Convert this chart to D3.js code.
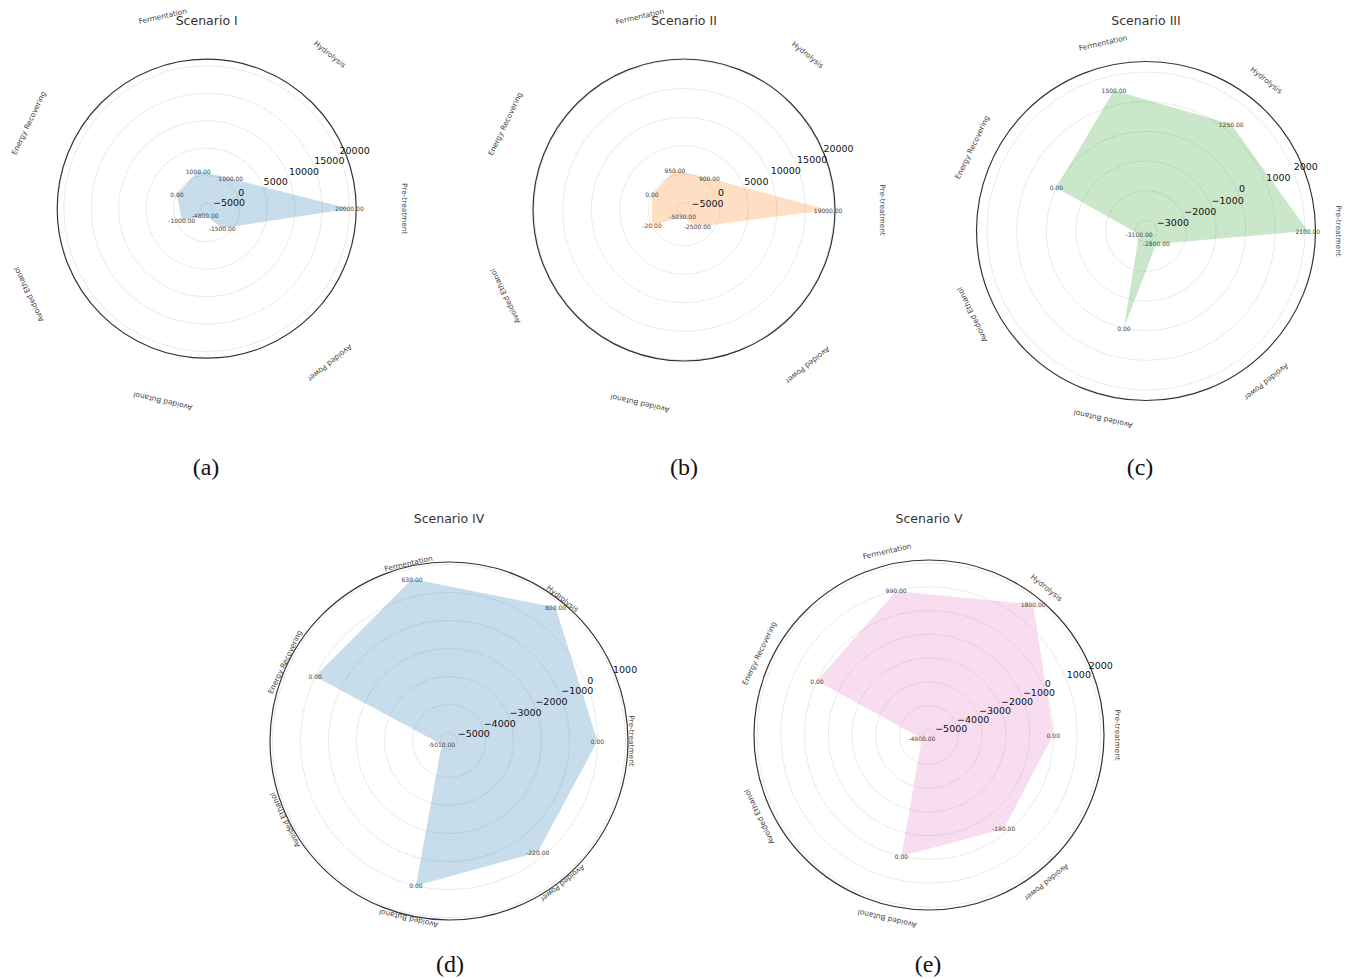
<!DOCTYPE html>
<html>
<head>
<meta charset="utf-8">
<script src="https://cdn.jsdelivr.net/npm/d3@7"></script>
<style>
  body { margin: 0; background: #fff; }
  svg { display: block; font-family: "DejaVu Sans", sans-serif; }
</style>
</head>
<body>
<svg width="1350" height="979"></svg>
<script>
// Categories, going counter-clockwise from the right
var categories = ["Pre-treatment", "Hydrolysis", "Fermentation", "Energy Recovering",
                  "Avoided Ethanol", "Avoided Butanol", "Avoided Power"];

// One series per scenario
var scenarioNames = ["Scenario I", "Scenario II", "Scenario III", "Scenario IV", "Scenario V"];
var captions = ["(a)", "(b)", "(c)", "(d)", "(e)"];
var scenario1 = [20000, 1000, 1000, 0, -1000, -4800, -1500];
var scenario2 = [19000, 900, 950, 0, -20, -5030, -2500];
var scenario3 = [2100, 1250, 1500, 0, -3100, 0, -2800];
var scenario4 = [0, 800, 630, 0, -5010, 0, -220];
var scenario5 = [0, 1800, 990, 0, -4900, 0, -190];
var allSeries = [scenario1, scenario2, scenario3, scenario4, scenario5];

// Fill colours
var colors = ["#1f77b4", "#ff7f0e", "#2ca02c", "#1f77b4", "#e377c2"];

// Panel layout: centre, radius, title and caption positions
var panels = [
  {cx: 206.7, cy: 208.7, R: 149.5, titleY: 20, capX: 206, capY: 475},
  {cx: 684,   cy: 210,   R: 151,   titleY: 20, capX: 684, capY: 475},
  {cx: 1146,  cy: 231,   R: 169.5, titleY: 20, capX: 1140, capY: 475},
  {cx: 449,   cy: 741,   R: 179,   titleY: 518, capX: 450, capY: 972},
  {cx: 929,   cy: 735,   R: 175,   titleY: 518, capX: 928, capY: 972}
];

var svg = d3.select("svg");
var n = categories.length;
var step = 2 * Math.PI / n;

allSeries.forEach(function(values, k) {
  var p = panels[k];
  var g = svg.append("g").attr("transform", "translate(" + p.cx + "," + p.cy + ")");

  // matplotlib-like autoscale: 5% margin on each side
  var lo = d3.min(values), hi = d3.max(values);
  var pad = (hi - lo) * 0.05;
  var r = d3.scaleLinear().domain([lo - pad, hi + pad]).range([0, p.R]);
  var ticks = r.ticks(6);

  // Grid circles
  g.selectAll("circle.grid")
    .data(ticks)
    .enter().append("circle")
    .attr("class", "grid")
    .attr("r", function(d) { return r(d); })
    .attr("fill", "none")
    .attr("stroke", "#c2c2c2")
    .attr("stroke-width", 0.8)
    .attr("stroke-dasharray", "1,1.2");

  // Filled polygon
  var line = d3.lineRadial()
    .angle(function(d, i) { return Math.PI / 2 - i * step; })
    .radius(function(d) { return r(d); })
    .curve(d3.curveLinearClosed);

  g.append("path")
    .attr("d", line(values))
    .attr("fill", colors[k])
    .attr("fill-opacity", 0.25)
    .attr("stroke", "none");

  // Outer spine
  g.append("circle")
    .attr("r", p.R)
    .attr("fill", "none")
    .attr("stroke", "#333")
    .attr("stroke-width", 1.2);

  // Radial tick labels at 22.5 degrees
  var a = 22.5 * Math.PI / 180;
  g.selectAll("text.rtick")
    .data(ticks)
    .enter().append("text")
    .attr("class", "rtick")
    .attr("x", function(d) { return r(d) * Math.cos(a) + 1; })
    .attr("y", function(d) { return -r(d) * Math.sin(a) - 4; })
    .attr("text-anchor", "start")
    .attr("dominant-baseline", "central")
    .attr("font-size", 9.5)
    .attr("fill", "#111")
    .text(function(d) { return d3.format("d")(d); });

  // Value labels at each vertex
  g.selectAll("text.val")
    .data(values)
    .enter().append("text")
    .attr("class", "val")
    .attr("x", function(d, i) { return r(d) * Math.cos(i * step); })
    .attr("y", function(d, i) { return -r(d) * Math.sin(i * step); })
    .attr("text-anchor", "middle")
    .attr("dominant-baseline", "central")
    .attr("font-size", 6)
    .attr("fill", "#444")
    .text(function(d) { return d.toFixed(2); });

  // Category labels, rotated along the circle
  var labelR = r(hi * 1.5);
  g.selectAll("text.cat")
    .data(categories)
    .enter().append("text")
    .attr("class", "cat")
    .attr("transform", function(d, i) {
      var th = i * step;
      var x = labelR * Math.cos(th), y = -labelR * Math.sin(th);
      return "translate(" + x + "," + y + ") rotate(" + (90 - th * 180 / Math.PI) + ")";
    })
    .attr("text-anchor", "middle")
    .attr("dominant-baseline", "central")
    .attr("font-size", 7.4)
    .attr("fill", "#444")
    .text(function(d) { return d; });

  // Title
  svg.append("text")
    .attr("x", p.cx)
    .attr("y", p.titleY)
    .attr("text-anchor", "middle")
    .attr("dominant-baseline", "central")
    .attr("font-size", 12.5)
    .attr("fill", "#333")
    .text(scenarioNames[k]);

  // Caption
  svg.append("text")
    .attr("x", p.capX)
    .attr("y", p.capY)
    .attr("text-anchor", "middle")
    .attr("font-family", "Liberation Serif, serif")
    .attr("font-size", 24)
    .attr("fill", "#111")
    .text(captions[k]);
});
</script>
</body>
</html>
